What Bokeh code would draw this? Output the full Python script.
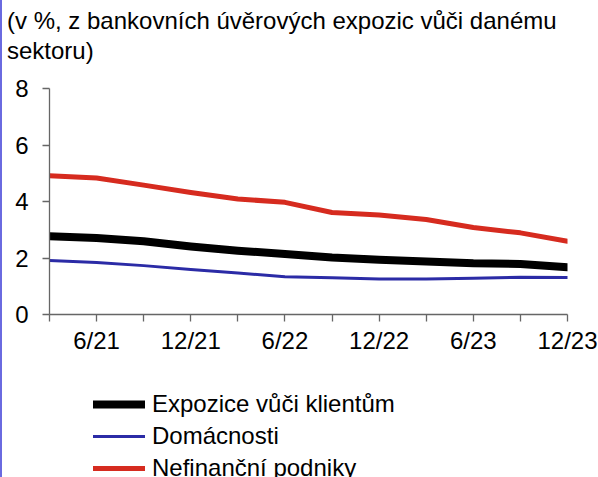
from bokeh.plotting import figure
from bokeh.layouts import column
from bokeh.models import Range1d, FixedTicker, Legend, LegendItem, Div
from bokeh.embed import file_html
from bokeh.resources import INLINE

# ---- data ----
quarters = ["3/21", "6/21", "9/21", "12/21", "3/22", "6/22",
            "9/22", "12/22", "3/23", "6/23", "9/23", "12/23"]
tick_labels = ["", "6/21", "", "12/21", "", "6/22",
               "", "12/22", "", "6/23", "", "12/23"]
expozice = [2.77, 2.71, 2.59, 2.41, 2.26, 2.14, 2.02, 1.94, 1.88, 1.81, 1.79, 1.67]
domacnosti = [1.91, 1.84, 1.73, 1.59, 1.47, 1.34, 1.30, 1.26, 1.26, 1.28, 1.32, 1.31]
podniky = [4.91, 4.83, 4.58, 4.32, 4.09, 3.97, 3.61, 3.52, 3.36, 3.08, 2.89, 2.59]
y_ticks = [0, 2, 4, 6, 8]

series_names = ["Expozice vůči klientům", "Domácnosti", "Nefinanční podniky"]
subtitle_lines = ["(v %, z bankovních úvěrových expozic vůči danému", "sektoru)"]

FONT = "Liberation Sans"
RED = "#d62b1f"
BLUE = "#2b2ba6"
BLACK = "#000000"
AXIS = "#666666"
EDGE = "#6a6ae0"

widths = {"black": 8, "blue": 3, "red": 5}

x = list(range(len(quarters)))

# ---- subtitle ----
sub = Div(text="<br>".join(subtitle_lines), width=598, height=68, margin=(0, 0, 0, 0),
          styles={"font-family": FONT, "font-size": "24px", "line-height": "30px",
                  "color": "black", "padding-top": "6px", "padding-left": "7px",
                  "white-space": "nowrap", "box-sizing": "border-box"})

# ---- main chart ----
p = figure(width=598, height=288, output_backend="svg", toolbar_location=None,
           x_range=Range1d(0, len(quarters) - 1), y_range=Range1d(0, 8),
           min_border_left=49, min_border_right=31,
           min_border_top=20, min_border_bottom=42)
p.outline_line_color = None
p.background_fill_color = "white"
p.border_fill_color = None
p.xgrid.visible = False
p.ygrid.visible = False

p.line(x, podniky, line_color=RED, line_width=widths["red"], line_cap="round", line_join="round")
p.line(x, expozice, line_color=BLACK, line_width=widths["black"], line_cap="round", line_join="round")
p.line(x, domacnosti, line_color=BLUE, line_width=widths["blue"], line_cap="round", line_join="round")

p.xaxis.ticker = FixedTicker(ticks=x)
p.xaxis.major_label_overrides = {i: lab for i, lab in zip(x, tick_labels)}
p.yaxis.ticker = FixedTicker(ticks=y_ticks)
for ax in (p.xaxis[0], p.yaxis[0]):
    ax.axis_line_color = AXIS
    ax.axis_line_width = 1.3
    ax.major_tick_line_color = AXIS
    ax.major_tick_line_width = 1.3
    ax.major_tick_in = 0
    ax.major_tick_out = 7
    ax.minor_tick_line_color = None
    ax.major_label_text_font = FONT
    ax.major_label_text_font_size = "24px"
    ax.major_label_text_color = "black"
p.yaxis.major_label_standoff = 14
p.xaxis.major_label_standoff = 5

# ---- legend strip (same series, drawn outside its visible range) ----
q = figure(width=598, height=121, output_backend="svg", toolbar_location=None,
           x_axis_location=None, y_axis_location=None,
           x_range=Range1d(0, len(quarters) - 1), y_range=Range1d(-10, -9),
           min_border_left=0, min_border_right=0, min_border_top=0, min_border_bottom=0)
q.outline_line_color = None
q.xgrid.visible = False
q.ygrid.visible = False
q.border_fill_color = None
q.background_fill_color = None

l_black = q.line(x, expozice, line_color=BLACK, line_width=widths["black"], line_cap="round")
l_blue = q.line(x, domacnosti, line_color=BLUE, line_width=widths["blue"], line_cap="round")
l_red = q.line(x, podniky, line_color=RED, line_width=widths["red"], line_cap="round")

legend = Legend(items=[LegendItem(label=series_names[0], renderers=[l_black]),
                       LegendItem(label=series_names[1], renderers=[l_blue]),
                       LegendItem(label=series_names[2], renderers=[l_red])],
                location=(44, -5), orientation="vertical",
                glyph_width=52, glyph_height=24, label_height=24,
                label_standoff=7, spacing=4, padding=0, margin=0,
                border_line_color=None, background_fill_alpha=0,
                label_text_font=FONT, label_text_font_size="24px",
                label_text_color="black")
q.add_layout(legend)

layout = column(sub, p, q, spacing=0,
                styles={"box-shadow": f"inset 2px 0 0 {EDGE}", "background": "white"})
open("out.html", "w").write(file_html(layout, INLINE))
